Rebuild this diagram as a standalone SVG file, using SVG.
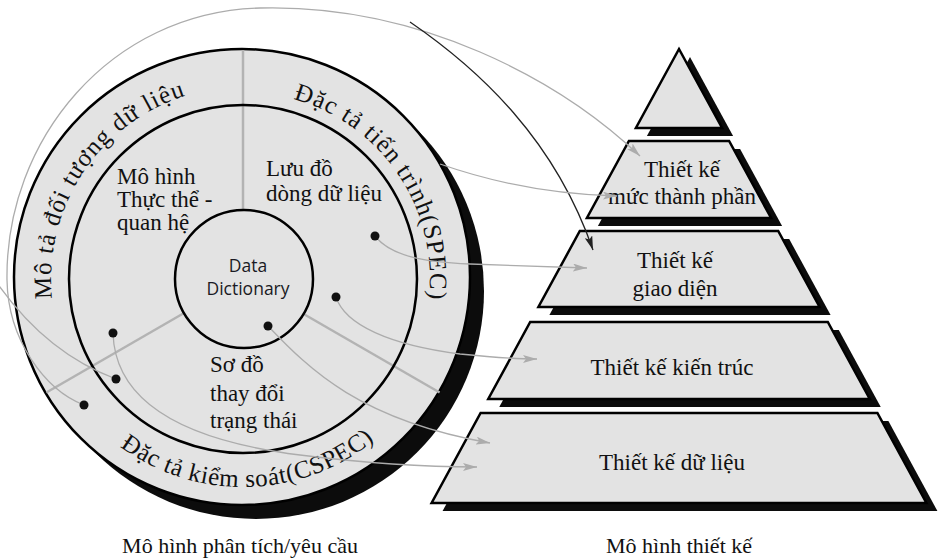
<svg xmlns="http://www.w3.org/2000/svg" width="942" height="559" viewBox="0 0 942 559">
<defs>
<style>
.serif{font-family:"Liberation Serif","Times New Roman",serif;fill:#111;font-size:23px}
.cap{font-family:"Liberation Serif","Times New Roman",serif;fill:#111;font-size:22px}
.ring{font-family:"Liberation Serif","Times New Roman",serif;font-size:25px;letter-spacing:1.1px;fill:#111}
.sans{font-family:"Open Sans","DejaVu Sans",sans-serif;font-size:17.5px;fill:#1a1a24}
.fill{fill:#e3e3e3;stroke:#000;stroke-width:2.5;stroke-linejoin:miter}
.line{fill:none;stroke:#000;stroke-width:2.5}
.shadow{fill:#0c0c0c}
.div{stroke:#b3b3b3;stroke-width:2.5}
.conn{fill:none;stroke:#acacac;stroke-width:1.3}
.connb{fill:none;stroke:#222;stroke-width:1.3}
.dot{fill:#111}
</style>
<marker id="ag" viewBox="0 0 14 8" refX="14" refY="4" markerWidth="14" markerHeight="8" markerUnits="userSpaceOnUse" orient="auto">
<path d="M0,0 L14,4 L0,8 L3,4 Z" fill="#acacac"/>
</marker>
<marker id="ab" viewBox="0 0 14 8" refX="14" refY="4" markerWidth="14" markerHeight="8" markerUnits="userSpaceOnUse" orient="auto">
<path d="M0,0 L14,4 L0,8 L3,4 Z" fill="#222"/>
</marker>
<path id="arcL" d="M79.3,379.3 A192,192 0 0 1 271.4,89.1"/>
<path id="arcR" d="M213.8,94.3 A187,187 0 0 1 403.3,375.3"/>
<path id="arcB" d="M56.9,371.8 A208,208 0 0 0 433.8,361.9"/>
</defs>
<rect width="942" height="559" fill="#fff"/>

<g id="analysis-model">
<circle class="shadow" cx="256" cy="291" r="228"/>
<circle class="fill" cx="242" cy="277" r="228"/>
<line class="div" x1="243" y1="50" x2="243" y2="210"/>
<line class="div" x1="183.2" y1="313.5" x2="46.4" y2="392.5"/>
<line class="div" x1="302.8" y1="313.5" x2="439.6" y2="392.5"/>
<circle class="line" cx="243" cy="279" r="174"/>
</g>

<g id="node-data-object">
<text class="ring"><textPath href="#arcL" startOffset="50%" text-anchor="middle">Mô tả đối tượng dữ liệu</textPath></text>
</g>
<g id="node-pspec">
<text class="ring"><textPath href="#arcR" startOffset="50%" text-anchor="middle">Đặc tả tiến trình(SPEC)</textPath></text>
</g>
<g id="node-cspec">
<text class="ring" style="letter-spacing:0.6px"><textPath href="#arcB" startOffset="50%" text-anchor="middle">Đặc tả kiểm soát(CSPEC)</textPath></text>
</g>
<g id="node-erd">
<text class="serif" x="117" y="184">Mô hình</text>
<text class="serif" x="117" y="207">Thực thể -</text>
<text class="serif" x="117" y="230">quan hệ</text>
</g>
<g id="node-dfd">
<text class="serif" x="266" y="176">Lưu đồ</text>
<text class="serif" x="266" y="201">dòng dữ liệu</text>
</g>
<g id="node-std">
<text class="serif" x="210" y="372">Sơ đồ</text>
<text class="serif" x="210" y="401">thay đổi</text>
<text class="serif" x="210" y="428">trạng thái</text>
</g>
<g id="node-data-dictionary">
<circle class="fill" cx="244" cy="279" r="69"/>
<text class="sans" x="248" y="272" text-anchor="middle">Data</text>
<text class="sans" x="248" y="295" text-anchor="middle">Dictionary</text>
</g>

<g id="node-pyramid-top">
<polygon class="shadow" points="690,57 733.1,136 646.9,136"/>
<polygon class="fill" points="679,49 722.1,128 635.9,128"/>
</g>
<g id="node-component-design">
<polygon class="shadow" points="639.9,149 740.1,149 782.1,226 597.9,226"/>
<polygon class="fill" points="628.9,141 729.1,141 771.1,218 586.9,218"/>
<text class="serif" x="682" y="177" text-anchor="middle">Thiết kế</text>
<text class="serif" x="682" y="204" text-anchor="middle">mức thành phần</text>
</g>
<g id="node-interface-design">
<polygon class="shadow" points="590.8,239 789.2,239 830.6,315 549.4,315"/>
<polygon class="fill" points="579.8,231 778.2,231 819.6,307 538.4,307"/>
<text class="serif" x="675" y="268" text-anchor="middle">Thiết kế</text>
<text class="serif" x="675" y="296" text-anchor="middle">giao diện</text>
</g>
<g id="node-architecture-design">
<polygon class="shadow" points="541.2,330 838.8,330 880.75,407 499.25,407"/>
<polygon class="fill" points="530.2,322 827.8,322 869.75,399 488.25,399"/>
<text class="serif" x="672" y="375" text-anchor="middle">Thiết kế kiến trúc</text>
</g>
<g id="node-data-design">
<polygon class="shadow" points="491.6,421 888.4,421 937.4,511 442.6,511"/>
<polygon class="fill" points="480.6,413 877.4,413 926.4,503 431.6,503"/>
<text class="serif" x="672" y="470" text-anchor="middle">Thiết kế dữ liệu</text>
</g>

<g id="captions">
<text class="cap" x="240" y="553" text-anchor="middle">Mô hình phân tích/yêu cầu</text>
<text class="cap" x="679" y="553" text-anchor="middle">Mô hình thiết kế</text>
</g>

<g id="connectors">
<path class="conn" d="M84,405 C45,390 8,340 7,280 C5,140 110,12 260,8 C420,4 560,80 640,156" marker-end="url(#ag)"/>
<path class="conn" d="M116,379 C70,362 30,330 -3,283"/>
<path class="connb" d="M410,22 C480,70 555,140 593,250" marker-end="url(#ab)"/>
<path class="conn" d="M440,164 C480,178 540,194 617,196" marker-end="url(#ag)"/>
<path class="conn" d="M375,236 C390,255 420,262 470,264 L587,268" marker-end="url(#ag)"/>
<path class="conn" d="M336,297 C345,325 390,345 460,354 C500,358 520,359 537,359" marker-end="url(#ag)"/>
<path class="conn" d="M268,326 C310,370 360,420 490,443" marker-end="url(#ag)"/>
<path class="conn" d="M113,333 C115,400 180,440 300,455 C380,465 430,467 477,467" marker-end="url(#ag)"/>
</g>

<g id="dots">
<circle class="dot" cx="375" cy="236" r="4.5"/>
<circle class="dot" cx="336" cy="297" r="4.5"/>
<circle class="dot" cx="268" cy="326" r="4.5"/>
<circle class="dot" cx="113" cy="333" r="4.5"/>
<circle class="dot" cx="116" cy="379" r="4.5"/>
<circle class="dot" cx="84" cy="405" r="4.5"/>
</g>
</svg>
